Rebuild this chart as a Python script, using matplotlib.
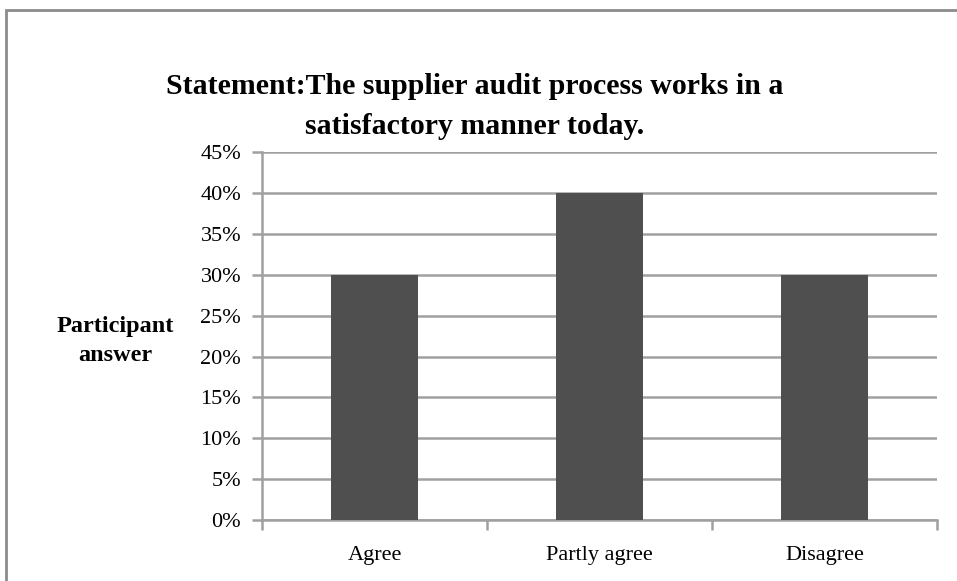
import matplotlib.pyplot as plt
from matplotlib.patches import Rectangle
from matplotlib.ticker import FuncFormatter

answers = ['Agree', 'Partly agree', 'Disagree']
shares = [30, 40, 30]
y_ticks = [0, 5, 10, 15, 20, 25, 30, 35, 40, 45]

plt.rcParams['font.family'] = ['Liberation Serif', 'DejaVu Serif']

def draw_chart():
	fig = plt.figure(figsize=(9.57, 5.81), dpi=100)
	ax = fig.add_axes([0.2738, 0.105, 0.7054, 0.633])

	grid_col = '#a0a0a0'
	pos = list(range(len(answers)))
	ax.bar(pos, shares, width=0.39, color='#4f4f4f', zorder=3)

	ax.set_xlim(-0.5, len(answers) - 0.5)
	ax.set_ylim(0, 45)
	ax.set_yticks(y_ticks)
	ax.yaxis.set_major_formatter(FuncFormatter(lambda v, p: '%d%%' % v))
	ax.grid(axis='y', color=grid_col, linewidth=1.8, zorder=0)

	# category borders carry the tick marks, names sit in between
	ax.set_xticks([p - 0.5 for p in pos] + [len(answers) - 0.5])
	ax.set_xticklabels([])
	ax.set_xticks(pos, minor=True)
	ax.set_xticklabels(answers, minor=True)
	ax.tick_params(axis='x', which='major', length=7, width=1.8, color=grid_col, direction='out')
	ax.tick_params(axis='x', which='minor', length=0, pad=19, labelsize=16)
	ax.tick_params(axis='y', length=7, width=1.8, color=grid_col, direction='out', labelsize=16, pad=8)

	for side in ['top', 'right']:
		ax.spines[side].set_visible(False)
	for side in ['left', 'bottom']:
		ax.spines[side].set_color(grid_col)
		ax.spines[side].set_linewidth(1.8)

	fig.text(0.496, 0.817, 'Statement:The supplier audit process works in a\nsatisfactory manner today.',
		ha='center', va='center', fontsize=21.5, fontweight='bold', linespacing=1.6)
	fig.text(0.12, 0.413, 'Participant\nanswer', ha='center', va='center',
		fontsize=17.5, fontweight='bold', linespacing=1.5)

	# outer frame of the chart area
	fig.patches.append(Rectangle((0.006, -0.1), 1.1, 1.082, transform=fig.transFigure,
		fill=False, edgecolor='#8c8c8c', linewidth=2))

	fig.savefig('out.png', dpi=100)

draw_chart()
